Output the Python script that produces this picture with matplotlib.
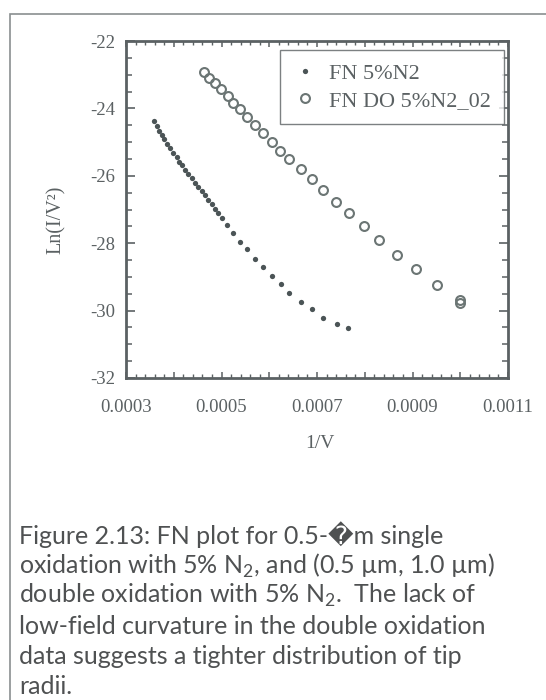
import matplotlib
matplotlib.use("Agg")
import matplotlib.pyplot as plt
from matplotlib.ticker import MultipleLocator, FuncFormatter
from matplotlib.patches import Rectangle

# ------------------------------------------------------
# data
# ------------------------------------------------------
fn_single_x = [0.0003586, 0.0003643, 0.0003697, 0.0003748, 0.0003802, 0.0003865,
               0.0003921, 0.0003991, 0.0004062, 0.0004116, 0.0004173, 0.0004236,
               0.0004305, 0.0004376, 0.0004445, 0.0004508, 0.0004585, 0.0004654,
               0.0004724, 0.0004795, 0.0004864, 0.0004933, 0.0005010, 0.0005121,
               0.0005235, 0.0005387, 0.0005540, 0.0005702, 0.0005863, 0.0006051,
               0.0006240, 0.0006420, 0.0006659, 0.0006889, 0.0007132, 0.0007412,
               0.0007655]
fn_single_y = [-24.37, -24.52, -24.67, -24.79, -24.92, -25.06,
               -25.18, -25.31, -25.45, -25.58, -25.69, -25.83,
               -25.95, -26.07, -26.21, -26.33, -26.45, -26.58,
               -26.72, -26.84, -26.99, -27.11, -27.25, -27.46,
               -27.71, -27.96, -28.18, -28.48, -28.72, -28.97,
               -29.22, -29.49, -29.74, -29.95, -30.21, -30.41,
               -30.53]

fn_double_x = [0.0004633, 0.0004744, 0.0004864, 0.0004989, 0.0005130, 0.0005247,
               0.0005387, 0.0005540, 0.0005702, 0.0005863, 0.0006051, 0.0006225,
               0.0006420, 0.0006661, 0.0006889, 0.0007119, 0.0007398, 0.0007676,
               0.0007984, 0.0008305, 0.0008669, 0.0009067, 0.0009519, 0.0009995,
               0.0009995]
fn_double_y = [-22.91, -23.09, -23.26, -23.43, -23.62, -23.83,
               -24.03, -24.25, -24.49, -24.74, -25.01, -25.26,
               -25.50, -25.79, -26.10, -26.42, -26.77, -27.11,
               -27.49, -27.91, -28.35, -28.77, -29.24, -29.69,
               -29.77]

series_labels = ["FN 5%N2", "FN DO 5%N2_02"]

caption_lines = [
    "Figure 2.13: FN plot for 0.5-\ufffdm single",
    "oxidation with 5% N$_\\mathregular{2}$, and (0.5 \u00b5m, 1.0 \u00b5m)",
    "double oxidation with 5% N$_\\mathregular{2}$.  The lack of",
    "low-field curvature in the double oxidation",
    "data suggests a tighter distribution of tip",
    "radii.",
]

W, H = 546, 700
ink = "#5b6163"
dot_col = "#4b5456"
ring_col = "#6b7574"
serif = ["Liberation Serif", "DejaVu Serif"]

fig = plt.figure(figsize=(W / 100, H / 100), dpi=100)

# outer frame of the scanned page (runs off right / bottom)
fig.add_artist(Rectangle((10 / W, -0.1), 1.2, 1 - 14 / H + 0.1,
                         transform=fig.transFigure, fill=False,
                         edgecolor="#8a8f90", linewidth=1.2))

ax = fig.add_axes([126 / W, 1 - 378 / H, 382 / W, 337 / H])

ax.plot(fn_single_x, fn_single_y, linestyle="none", marker="o",
        markersize=3.8, color=dot_col, markeredgewidth=0,
        label=series_labels[0])
ax.plot(fn_double_x, fn_double_y, linestyle="none", marker="o",
        markersize=6.4, markerfacecolor="none", markeredgecolor=ring_col,
        markeredgewidth=1.5, label=series_labels[1])

ax.set_xlim(0.0003, 0.0011)
ax.set_ylim(-32, -22)

# -------------------------
# ticks
# -------------------------
ax.xaxis.set_major_locator(MultipleLocator(0.0001))
ax.xaxis.set_minor_locator(MultipleLocator(0.00002))
ax.xaxis.set_major_formatter(FuncFormatter(
    lambda v, p: f"{v:.4f}" if round(v * 1e4) % 2 == 1 else ""))
ax.yaxis.set_major_locator(MultipleLocator(2))
ax.yaxis.set_minor_locator(MultipleLocator(0.5))
ax.yaxis.set_major_formatter(FuncFormatter(lambda v, p: f"{v:.0f}"))

ax.tick_params(which="both", direction="in", top=True, right=True,
               color=ink, labelcolor=ink)
ax.tick_params(axis="x", which="major", length=4.5, width=1.1, pad=15)
ax.tick_params(axis="x", which="minor", length=2.6, width=1.0)
ax.tick_params(axis="y", which="major", length=6.5, width=1.2, pad=8)
ax.tick_params(axis="y", which="minor", length=4.2, width=1.1)
for lab in ax.get_xticklabels() + ax.get_yticklabels():
    lab.set_family(serif)
    lab.set_fontsize(13.5)

for sp in ax.spines.values():
    sp.set_color(ink)
    sp.set_linewidth(2.0)

ax.set_xlabel("1/V", family=serif, fontsize=14, color=ink)
ax.set_ylabel("Ln(I/V\u00b2)", family=serif, fontsize=14.5, color=ink)
ax.xaxis.set_label_coords((320 - 126) / 382, (378 - 435) / 337)
ax.yaxis.set_label_coords((66 - 126) / 382, (378 - 220) / 337)

leg = ax.legend(loc="upper right", bbox_to_anchor=((504 - 126) / 382, (378 - 50) / 337),
                prop={"family": serif, "size": 16}, frameon=True, fancybox=False,
                borderpad=0.6, labelspacing=0.3, handletextpad=0.5,
                handlelength=1.1, borderaxespad=0)
leg.get_frame().set_edgecolor(ink)
leg.get_frame().set_linewidth(1.0)
for t in leg.get_texts():
    t.set_color(ink)

# -------------------------
# caption
# -------------------------
for i, line in enumerate(caption_lines):
    fig.text(19 / W, 1 - (535 + 30.4 * i) / H, line, family=["Lato", "DejaVu Sans"],
             fontsize=18, color="#4f5152", va="center", ha="left")

fig.savefig("out.png", dpi=100, facecolor="white")
